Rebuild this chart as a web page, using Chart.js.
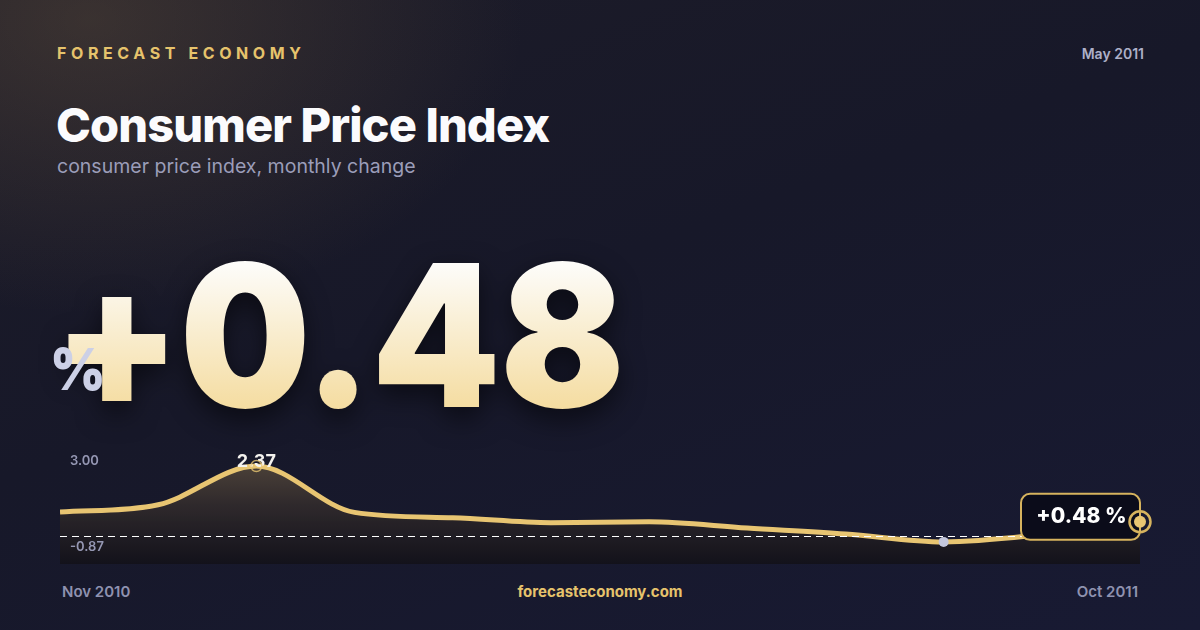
<!DOCTYPE html>
<html>
<head>
<meta charset="utf-8">
<script src="https://cdn.jsdelivr.net/npm/chart.js@4"></script>
<style>
  html, body { margin: 0; padding: 0; }
  body {
    width: 1200px; height: 630px; overflow: hidden; position: relative;
    font-family: 'Inter', 'Noto Sans', sans-serif;
    background:
      radial-gradient(ellipse 620px 420px at 90px 20px, rgba(120, 96, 66, 0.32), rgba(120, 96, 66, 0) 70%),
      linear-gradient(160deg, #1d1c28 0%, #171829 45%, #181a33 100%);
  }
  .brand { position: absolute; left: 57px; top: 43px; font-size: 16px; font-weight: 700; letter-spacing: 4.6px; color: #e6c36c; }
  .date { position: absolute; right: 56px; top: 45px; font-size: 14px; font-weight: 600; color: #adb0c8; }
  .title { position: absolute; left: 56px; top: 96px; font-size: 47px; font-weight: 800; color: #fbfbfd; letter-spacing: -0.9px; }
  .subtitle { position: absolute; left: 57px; top: 154px; font-size: 19.5px; font-weight: 400; color: #9b9db9; }
  .big {
    position: absolute; left: 53px; top: 217px; font-size: 198px; font-weight: 900; letter-spacing: -1px; line-height: 1.2;
    transform: scaleX(0.93); transform-origin: left top;
    background: linear-gradient(180deg, #fdfcf9 20%, #f4da9a 85%);
    -webkit-background-clip: text; background-clip: text; color: transparent;
    filter: drop-shadow(0 10px 14px rgba(0, 0, 0, 0.55));
  }
  .pct { position: absolute; left: 50px; top: 334px; font-size: 58px; font-weight: 900; color: #ccd0e6; transform: scaleX(0.92); transform-origin: left top; }
  .chart-wrap { position: absolute; left: 60px; top: 440px; width: 1100px; height: 130px; }
  .foot { position: absolute; top: 582px; font-size: 15px; font-weight: 600; color: #8f92b0; }
  .foot.left { left: 62px; }
  .foot.mid { left: 0; width: 1200px; text-align: center; color: #e6c36c; font-weight: 700; }
  .foot.right { right: 62px; }
</style>
</head>
<body>
<div class="brand">FORECAST ECONOMY</div>
<div class="date">May 2011</div>
<div class="title">Consumer Price Index</div>
<div class="subtitle">consumer price index, monthly change</div>
<div class="big">+0.48</div>
<div class="pct">%</div>
<div class="chart-wrap"><canvas id="cpiChart"></canvas></div>
<div class="foot left">Nov 2010</div>
<div class="foot mid">forecasteconomy.com</div>
<div class="foot right">Oct 2011</div>

<script>
// Monthly CPI change, Nov 2010 - Oct 2011
const months = ['Nov 2010', 'Dec 2010', 'Jan 2011', 'Feb 2011', 'Mar 2011', 'Apr 2011',
                'May 2011', 'Jun 2011', 'Jul 2011', 'Aug 2011', 'Sep 2011', 'Oct 2011'];
const cpiValues = [0.81, 1.06, 2.37, 0.80, 0.62, 0.45, 0.48, 0.27, 0.07, -0.20, 0.05, 0.48];
const rangeLabels = ['3.00', '-0.87'];
const peakLabel = '2.37';
const lastLabel = '+0.48 %';

const GOLD = '#e8c572';

document.addEventListener('DOMContentLoaded', function() {
    initCpiChart();
});

// zero line, range labels and point markers on top of the area
const overlayPlugin = {
    id: 'overlay',
    afterDatasetsDraw(chart) {
        const { ctx, chartArea, scales } = chart;
        const x = scales.x, y = scales.y;
        ctx.save();

        // dashed zero line
        const y0 = Math.round(y.getPixelForValue(0)) + 0.5;
        ctx.strokeStyle = '#ffffff';
        ctx.lineWidth = 1;
        ctx.setLineDash([7, 5]);
        ctx.beginPath();
        ctx.moveTo(chartArea.left, y0);
        ctx.lineTo(chartArea.right, y0);
        ctx.stroke();
        ctx.setLineDash([]);

        // range labels
        ctx.font = '600 13px Inter';
        ctx.fillStyle = '#9597b3';
        ctx.textBaseline = 'middle';
        ctx.fillText(rangeLabels[0], chartArea.left + 10, chartArea.top + 15);
        ctx.fillText(rangeLabels[1], chartArea.left + 10, chartArea.bottom - 17);

        // peak marker + label
        const peakIdx = cpiValues.indexOf(Math.max(...cpiValues));
        const px = x.getPixelForValue(peakIdx), py = y.getPixelForValue(cpiValues[peakIdx]);
        ctx.font = '700 18px Inter';
        ctx.fillStyle = '#f4f2ee';
        ctx.textAlign = 'center';
        ctx.fillText(peakLabel, px, py - 4);
        ctx.strokeStyle = 'rgba(232,197,114,0.8)';
        ctx.lineWidth = 1.5;
        ctx.beginPath();
        ctx.arc(px, py, 5.5, 0, Math.PI * 2);
        ctx.stroke();

        // low marker
        const lowIdx = cpiValues.indexOf(Math.min(...cpiValues));
        ctx.fillStyle = '#c3c6dc';
        ctx.beginPath();
        ctx.arc(x.getPixelForValue(lowIdx), y.getPixelForValue(cpiValues[lowIdx]), 5, 0, Math.PI * 2);
        ctx.fill();

        // last value box
        const lastIdx = cpiValues.length - 1;
        const lx = x.getPixelForValue(lastIdx), ly = y.getPixelForValue(cpiValues[lastIdx]);
        const bw = 119, bh = 46;
        const bx = lx - bw, by = ly - 28;
        ctx.fillStyle = '#0b0c1a';
        ctx.strokeStyle = '#d6b35e';
        ctx.lineWidth = 2;
        ctx.beginPath();
        ctx.roundRect(bx, by, bw, bh, 9);
        ctx.fill();
        ctx.stroke();
        ctx.font = '800 21px Inter';
        ctx.fillStyle = '#ffffff';
        ctx.textAlign = 'center';
        ctx.fillText(lastLabel, bx + bw / 2 + 1, by + bh / 2);

        // last point ring
        ctx.strokeStyle = '#d6b35e';
        ctx.lineWidth = 2.5;
        ctx.beginPath();
        ctx.arc(lx, ly, 10.5, 0, Math.PI * 2);
        ctx.stroke();
        ctx.fillStyle = GOLD;
        ctx.beginPath();
        ctx.arc(lx, ly, 6, 0, Math.PI * 2);
        ctx.fill();
        ctx.restore();
    }
};

function areaGradient(context) {
    const area = context.chart.chartArea;
    if (!area) return 'rgba(0,0,0,0)';
    const g = context.chart.ctx.createLinearGradient(0, area.top, 0, area.bottom);
    g.addColorStop(0, 'rgba(96, 82, 64, 0.9)');
    g.addColorStop(0.5, 'rgba(48, 42, 44, 0.95)');
    g.addColorStop(1, 'rgba(19, 18, 27, 1)');
    return g;
}

function initCpiChart() {
    const ctx = document.getElementById('cpiChart').getContext('2d');
    new Chart(ctx, {
        type: 'line',
        data: {
            labels: months,
            datasets: [{
                data: cpiValues,
                borderColor: GOLD,
                borderWidth: 5,
                backgroundColor: areaGradient,
                fill: 'start',
                tension: 0.4,
                cubicInterpolationMode: 'monotone',
                pointRadius: 0,
                clip: false
            }]
        },
        options: {
            responsive: true,
            maintainAspectRatio: false,
            animation: false,
            layout: { padding: { top: 6, right: 20, bottom: 6, left: 0 } },
            plugins: { legend: { display: false }, tooltip: { enabled: false } },
            scales: {
                x: { display: false, offset: false },
                y: { display: false, min: -0.95, max: 3.05 }
            }
        },
        plugins: [overlayPlugin]
    });
}
</script>
</body>
</html>
